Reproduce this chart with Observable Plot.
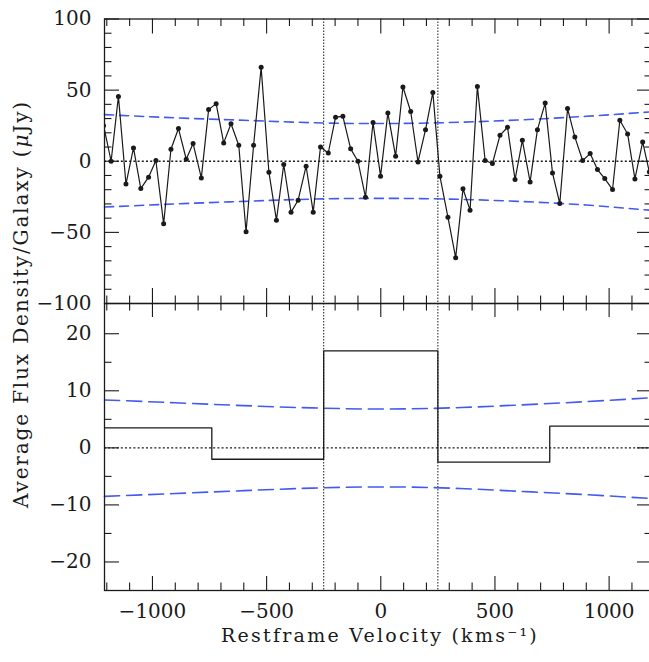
<!DOCTYPE html>
<html><head><meta charset="utf-8">
<script src="https://cdn.jsdelivr.net/npm/d3@7"></script>
<script src="https://cdn.jsdelivr.net/npm/@observablehq/plot@0.6"></script>
<style>
body{margin:0;background:#fff}
#wrap{position:relative;width:649px;height:662px;overflow:hidden;background:#fff}
#wrap svg{position:absolute;left:0;max-width:none}
.lab{position:absolute;white-space:nowrap;font-family:"DejaVu Serif",serif;font-size:20px;color:#1a1a1a;line-height:12px;height:12px}
</style></head><body><div id="wrap"></div>
<script>
// ---- data ----
const velocity = [-1214, -1181, -1149, -1116, -1083, -1051, -1017, -985, -951, -919, -886, -852, -822, -786, -754, -721, -688, -656, -622, -590, -557, -524, -490, -457, -425, -393, -362, -327, -296, -264, -230, -198, -166, -132, -100, -67, -34, -1, 31, 65, 97, 131, 163, 196, 228, 259, 294, 328, 360, 391, 423, 457, 489, 522, 555, 588, 620, 654, 686, 720, 752, 784, 818, 850, 884, 917, 949, 981, 1015, 1047, 1081, 1113, 1147, 1176];
const flux = [25, 0, 45.6, -16, 9.4, -19.2, -11.2, 0.5, -44, 8.4, 23, 1.4, 12.4, -11.7, 36.3, 40.5, 12.9, 26.4, 11.2, -49.6, 11.2, 66, -7.7, -41.4, -2.3, -35.8, -27.4, -3.5, -35.8, 10, 5.8, 31, 31.6, 8.7, 0, -25.3, 27.2, -10.5, 34, 3.5, 52.2, 35, -0.5, 22.2, 48.4, -10.5, -39.3, -67.8, -19.3, -34.4, 52.6, 0.5, -1.6, 18.2, 23.9, -12.9, 14.7, -14.5, 22.2, 40.9, -8.2, -29.7, 37, 17, 0.5, 5.4, -5.8, -12.2, -19.9, 28.8, 19.2, -12.4, 13.6, -7.5];

const sensVelocity = [-1210, -900, -600, -300, 0, 300, 600, 900, 1190];
const sensTopUpper = [32.8, 30.5, 28.8, 27.1, 26.5, 27.2, 29.0, 31.6, 34.8];
const sensTopLower = [-32.2, -30.0, -28.2, -26.6, -26.1, -26.6, -28.2, -30.8, -34.6];
const sensBotUpper = [8.4, 7.9, 7.4, 7.0, 6.8, 7.0, 7.5, 8.1, 8.8];
const sensBotLower = [-8.5, -8.0, -7.5, -7.05, -6.85, -7.05, -7.6, -8.2, -8.9];

const binEdges = [-1250, -740, -250, 250, 740, 1250];
const binMeans = [3.5, -2.0, 17.0, -2.5, 3.8];

const markerVelocity = [-250, 250];

const xMajor = [-1000, -500, 0, 500, 1000];
const xMinor = [-1200, -1100, -900, -800, -700, -600, -400, -300, -200, -100, 100, 200, 300, 400, 600, 700, 800, 900, 1100];
const yTopMajor = [-100, -50, 0, 50, 100];
const yTopMinor = [-90, -80, -70, -60, -40, -30, -20, -10, 10, 20, 30, 40, 60, 70, 80, 90];
const yBotMajor = [-20, -10, 0, 10, 20];
const yBotMinor = [-15, -5, 5, 15];

const xTitle = "Restframe Velocity (kms\u207B\u00B9)";
const yTitleA = "Average Flux Density/Galaxy (";
const yTitleMu = "\u03BC";
const yTitleB = "Jy)";

// ---- build ----
const FONT = "DejaVu Serif";
const INK = "#1a1a1a";
const BLUE = "#4459ee";
const W = 653, ML = 104, MR = 1;
const FW = W - ML - MR;
const xDomain = [-1210, 1190];
const fmt = d3.format("d");

const points = velocity.map((v, i) => ({v, f: flux[i]}));
const sensTop = sensVelocity.map((v, i) => ({v, up: sensTopUpper[i], lo: sensTopLower[i]}));
const sensBot = sensVelocity.map((v, i) => ({v, up: sensBotUpper[i], lo: sensBotLower[i]}));
const steps = binEdges.map((e, i) => ({v: e, m: binMeans[Math.min(i, binMeans.length - 1)]}));

function ticks(fh, majLenX) {
  const s = {stroke: INK, strokeWidth: 1.1};
  return [
    Plot.tickX(xMajor, {x: d => d, insetTop: fh - majLenX, ...s}),
    Plot.tickX(xMajor, {x: d => d, insetBottom: fh - majLenX, ...s}),
    Plot.tickX(xMinor, {x: d => d, insetTop: fh - 7.5, ...s}),
    Plot.tickX(xMinor, {x: d => d, insetBottom: fh - 7.5, ...s}),
  ];
}
function yticks(maj, min) {
  const s = {stroke: INK, strokeWidth: 1.1};
  return [
    Plot.tickY(maj, {y: d => d, insetRight: FW - 15, ...s}),
    Plot.tickY(maj, {y: d => d, insetLeft: FW - 15, ...s}),
    Plot.tickY(min, {y: d => d, insetRight: FW - 7.5, ...s}),
    Plot.tickY(min, {y: d => d, insetLeft: FW - 7.5, ...s}),
  ];
}

const style = {background: "transparent", overflow: "visible", maxWidth: "none", fontFamily: FONT, fontSize: "20px", color: INK};

const topH = 304, topMT = 18.5, topMB = 1;
const topPlot = Plot.plot({
  width: W, height: topH, marginLeft: ML, marginRight: MR, marginTop: topMT, marginBottom: topMB,
  style,
  x: {domain: xDomain, axis: null},
  y: {domain: [-100, 100]},
  marks: [
    Plot.ruleY([0], {stroke: INK, strokeWidth: 1.3, strokeDasharray: "2,2.2"}),
    Plot.ruleX(markerVelocity, {x: d => d, stroke: INK, strokeWidth: 1, strokeDasharray: "1.5,1.5"}),
    Plot.line(sensTop, {x: "v", y: "up", stroke: BLUE, strokeWidth: 1.6, strokeDasharray: "9,6", curve: "natural"}),
    Plot.line(sensTop, {x: "v", y: "lo", stroke: BLUE, strokeWidth: 1.6, strokeDasharray: "9,6", curve: "natural"}),
    Plot.line(points, {x: "v", y: "f", stroke: INK, strokeWidth: 1.2, clip: true}),
    Plot.dot(points, {x: "v", y: "f", r: 2.5, fill: INK, stroke: null, clip: true}),
    ...ticks(topH - topMT - topMB, 15),
    ...yticks(yTopMajor, yTopMinor),
    Plot.frame({stroke: INK, strokeWidth: 1.3}),
    Plot.axisY(yTopMajor, {tickSize: 0, tickPadding: 13, fontSize: 20, fontFamily: FONT, fill: INK, tickFormat: fmt})
  ]
});

const botTop = 302, botH = 360, botMT = 1, botMB = 72;
const botPlot = Plot.plot({
  width: W, height: botH, marginLeft: ML, marginRight: MR, marginTop: botMT, marginBottom: botMB,
  style,
  x: {domain: xDomain},
  y: {domain: [-25, 25.3]},
  marks: [
    Plot.ruleY([0], {stroke: INK, strokeWidth: 1.3, strokeDasharray: "2,2.2"}),
    Plot.ruleX(markerVelocity, {x: d => d, stroke: INK, strokeWidth: 1, strokeDasharray: "1.5,1.5"}),
    Plot.line(sensBot, {x: "v", y: "up", stroke: BLUE, strokeWidth: 1.6, strokeDasharray: "15,7", curve: "natural"}),
    Plot.line(sensBot, {x: "v", y: "lo", stroke: BLUE, strokeWidth: 1.6, strokeDasharray: "15,7", curve: "natural"}),
    Plot.line(steps, {x: "v", y: "m", stroke: INK, strokeWidth: 1.3, curve: "step-after", clip: true}),
    ...ticks(botH - botMT - botMB, 14),
    ...yticks(yBotMajor, yBotMinor),
    Plot.frame({stroke: INK, strokeWidth: 1.3}),
    Plot.axisY(yBotMajor, {tickSize: 0, tickPadding: 13, fontSize: 20, fontFamily: FONT, fill: INK, tickFormat: fmt}),
    Plot.axisX(xMajor, {tickSize: 0, tickPadding: 13, fontSize: 20, fontFamily: FONT, fill: INK, label: null, tickFormat: fmt})
  ]
});

const wrap = document.getElementById("wrap");
botPlot.style.top = botTop + "px";
topPlot.style.top = "0px";
wrap.appendChild(botPlot);
wrap.appendChild(topPlot);

function addLabel(parts, cx, cy, targetLen, rotate, fs) {
  const d = document.createElement("div");
  d.className = "lab";
  d.style.fontSize = fs + "px";
  let n = 0;
  for (const [t, italic] of parts) {
    const s = document.createElement("span");
    s.textContent = t;
    if (italic) s.style.fontStyle = "italic";
    d.appendChild(s);
    n += [...t].length;
  }
  wrap.appendChild(d);
  const natural = d.getBoundingClientRect().width;
  const ls = (targetLen - natural) / n;
  d.style.letterSpacing = ls + "px";
  d.style.left = cx + "px";
  d.style.top = cy + "px";
  d.style.transform = "translate(-50%,-50%)" + (rotate ? " rotate(-90deg)" : "");
}
addLabel([[xTitle, false]], 380, 634.5, 318, false, 19);
addLabel([[yTitleA, false], [yTitleMu, true], [yTitleB, false]], 21, 304, 408, true, 20);
</script></body></html>
